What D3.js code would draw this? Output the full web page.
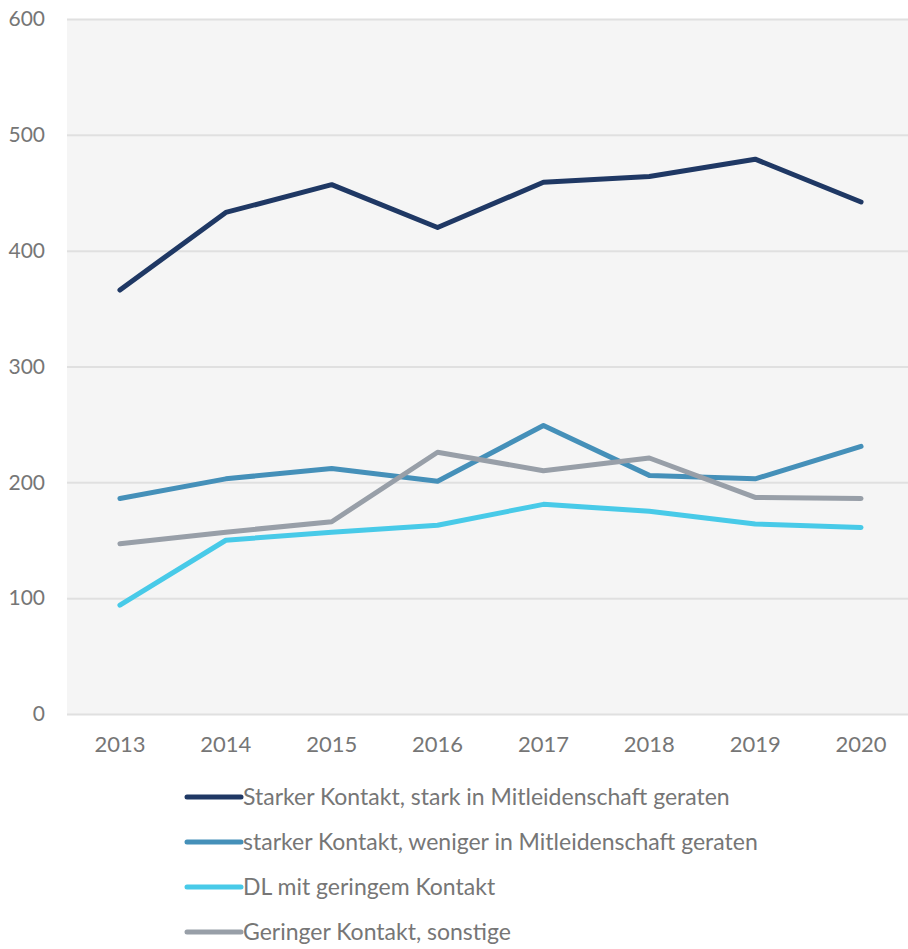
<!DOCTYPE html>
<html>
<head>
<meta charset="utf-8">
<script src="https://cdn.jsdelivr.net/npm/d3@7"></script>
<style>
  html, body { margin: 0; padding: 0; background: #ffffff; }
  svg { display: block; }
  text { font-family: Lato, "Open Sans", sans-serif; fill: #767676; }
</style>
</head>
<body>
<svg id="chart" width="908" height="949"></svg>
<script>
const years = ["2013", "2014", "2015", "2016", "2017", "2018", "2019", "2020"];
const yTicks = [0, 100, 200, 300, 400, 500, 600];

const seriesNames = [
  "Starker Kontakt, stark in Mitleidenschaft geraten",
  "starker Kontakt, weniger in Mitleidenschaft geraten",
  "DL mit geringem Kontakt",
  "Geringer Kontakt, sonstige"
];
const starkStark = [366, 433, 457, 420, 459, 464, 479, 442];
const starkWeniger = [186, 203, 212, 201, 249, 206, 203, 231];
const dlGering = [94, 150, 157, 163, 181, 175, 164, 161];
const geringSonstige = [147, 157, 166, 226, 210, 221, 187, 186];
const seriesColors = ["#1f3864", "#4590b9", "#48cae8", "#989fa8"];

const seriesValues = [starkStark, starkWeniger, dlGering, geringSonstige];

const svg = d3.select("#chart");
const plot = { left: 67, right: 914, top: 19, bottom: 714 };

const x = d3.scaleBand().domain(years).range([plot.left, plot.right]);
const y = d3.scaleLinear().domain([0, 600]).range([plot.bottom, plot.top]);

// plot background
svg.append("rect")
  .attr("x", plot.left).attr("y", plot.top)
  .attr("width", plot.right - plot.left).attr("height", plot.bottom - plot.top)
  .attr("fill", "#f5f5f5");

// horizontal gridlines + y labels
const yAxis = d3.axisLeft(y).tickValues(yTicks).tickSize(-(plot.right - plot.left)).tickPadding(22);
const gy = svg.append("g").attr("transform", `translate(${plot.left},0)`).call(yAxis);
gy.select(".domain").remove();
gy.selectAll(".tick line").attr("stroke", "#e0e0e0").attr("stroke-width", 2);
gy.selectAll(".tick text").attr("font-size", 21).attr("fill", "#767676");

// x labels
const xAxis = d3.axisBottom(x).tickSize(0).tickPadding(22);
const gx = svg.append("g").attr("transform", `translate(0,${plot.bottom})`).call(xAxis);
gx.select(".domain").remove();
gx.selectAll(".tick text").attr("font-size", 22).attr("fill", "#767676");

// series lines
const line = d3.line()
  .x((d, i) => x(years[i]) + x.bandwidth() / 2)
  .y(d => y(d));

seriesValues.forEach((vals, i) => {
  svg.append("path")
    .datum(vals)
    .attr("d", line)
    .attr("fill", "none")
    .attr("stroke", seriesColors[i])
    .attr("stroke-width", 5)
    .attr("stroke-linecap", "round")
    .attr("stroke-linejoin", "round");
});

// legend
const legend = svg.append("g");
seriesNames.forEach((name, i) => {
  const ly = 797 + i * 45;
  legend.append("line")
    .attr("x1", 187).attr("x2", 241)
    .attr("y1", ly).attr("y2", ly)
    .attr("stroke", seriesColors[i])
    .attr("stroke-width", 5)
    .attr("stroke-linecap", "round");
  legend.append("text")
    .attr("x", 243).attr("y", ly)
    .attr("dy", "0.35em")
    .attr("font-size", 23)
    .attr("fill", "#767676")
    .text(name);
});
</script>
</body>
</html>
